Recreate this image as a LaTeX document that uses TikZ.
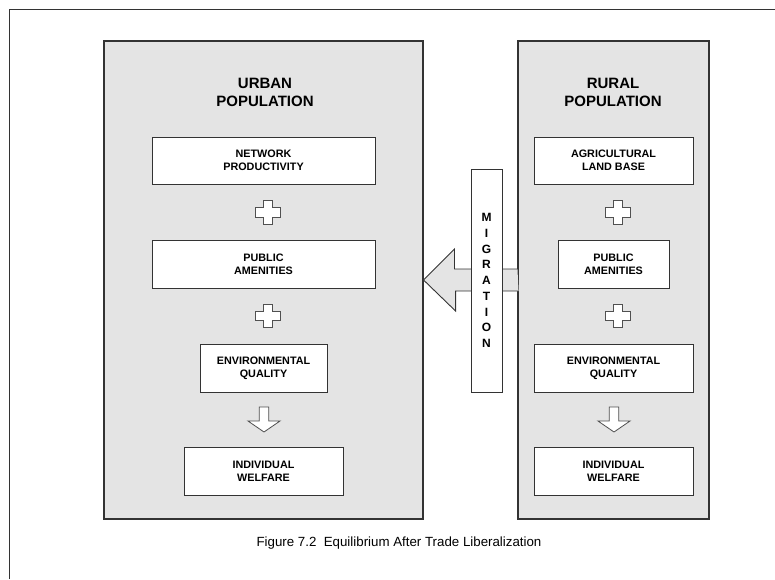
\documentclass[tikz,border=0pt]{standalone}
\usepackage{fontspec}
\setmainfont{Liberation Sans}
\usetikzlibrary{calc}
\definecolor{panelgray}{HTML}{E4E4E4}
\definecolor{edgegray}{HTML}{333333}
\definecolor{symgray}{HTML}{505050}
\begin{document}
\begin{tikzpicture}[
  x=1pt, y=-1pt,
  panel/.style={draw=edgegray, line width=1.1pt, fill=panelgray, inner sep=0pt},
  itembox/.style={draw=edgegray, line width=0.9pt, fill=white, inner sep=0pt, align=center,
    font=\fontsize{10.8}{13}\selectfont\bfseries},
  title/.style={align=center, inner sep=0pt, font=\fontsize{15}{18.5}\selectfont\bfseries},
  symbol/.style={draw=symgray, line width=0.8pt, fill=white},
  plussign/.pic={\path[symbol] (-4.7,-11.7) -- (4.7,-11.7) -- (4.7,-4.8) -- (12.5,-4.8) -- (12.5,4.8)
     -- (4.7,4.8) -- (4.7,11.7) -- (-4.7,11.7) -- (-4.7,4.8) -- (-12.5,4.8) -- (-12.5,-4.8) -- (-4.7,-4.8) -- cycle;},
  downsign/.pic={\path[symbol] (-4.7,-12.5) -- (4.7,-12.5) -- (4.7,1.5) -- (16,1.5) -- (0,12.5)
     -- (-16,1.5) -- (-4.7,1.5) -- cycle;}
]
\useasboundingbox (0,0) rectangle (775,579);
% outer frame
\draw[edgegray, line width=1pt] (9,579) -- (9,9) -- (775,9);

% panels
\node[panel, minimum width=319pt, minimum height=478pt] (urban) at (263.5,280) {};
\node[panel, minimum width=191pt, minimum height=478pt] (rural) at (613.5,280) {};

\node[title] (utitle) at (265,92.5) {URBAN\\POPULATION};
\node[title] (rtitle) at (613,92.5) {RURAL\\POPULATION};

% urban items
\node[itembox, minimum width=223pt, minimum height=47pt] (np) at (263.5,160.5) {NETWORK\\PRODUCTIVITY};
\node[itembox, minimum width=223pt, minimum height=48pt] (upa) at (263.5,264) {PUBLIC\\AMENITIES};
\node[itembox, minimum width=127pt, minimum height=48pt] (ueq) at (263.5,368) {ENVIRONMENTAL\\QUALITY};
\node[itembox, minimum width=159pt, minimum height=48pt] (uiw) at (263.5,471) {INDIVIDUAL\\WELFARE};

% rural items
\node[itembox, minimum width=159pt, minimum height=47pt] (alb) at (613.5,160.5) {AGRICULTURAL\\LAND BASE};
\node[itembox, minimum width=111pt, minimum height=48pt] (rpa) at (613.5,264) {PUBLIC\\AMENITIES};
\node[itembox, minimum width=159pt, minimum height=48pt] (req) at (613.5,368) {ENVIRONMENTAL\\QUALITY};
\node[itembox, minimum width=159pt, minimum height=48pt] (riw) at (613.5,471) {INDIVIDUAL\\WELFARE};

% symbols between boxes
\pic at ($(np.south)!0.5!(upa.north)+(4.5,0.5)$) {plussign};
\pic at ($(upa.south)!0.5!(ueq.north)+(4.5,0)$) {plussign};
\pic at ($(ueq.south)!0.5!(uiw.north)+(0.5,0)$) {downsign};
\pic at ($(alb.south)!0.5!(rpa.north)+(4.5,0.5)$) {plussign};
\pic at ($(rpa.south)!0.5!(req.north)+(4.5,0)$) {plussign};
\pic at ($(req.south)!0.5!(riw.north)+(0.5,0)$) {downsign};

% migration arrow
\draw[draw=edgegray, line width=0.9pt, fill=panelgray, line join=miter]
  (rural.west) ++(0,-11) -- ++(-63,0) -- ++(0,-20) -- (urban.east) -- ++(32,31) -- ++(0,-20) -- ++(63,0);
\node[itembox, minimum width=31pt, minimum height=223pt,
      font=\fontsize{12}{15.75}\selectfont\bfseries] (mig) at (486.5,280.5) {M\\I\\G\\R\\A\\T\\I\\O\\N};

% caption
\node[inner sep=0pt, font=\fontsize{13.3}{16}\selectfont] (caption) at (399,543)
  {Figure 7.2\ \ Equilibrium After Trade Liberalization};
\end{tikzpicture}
\end{document}
